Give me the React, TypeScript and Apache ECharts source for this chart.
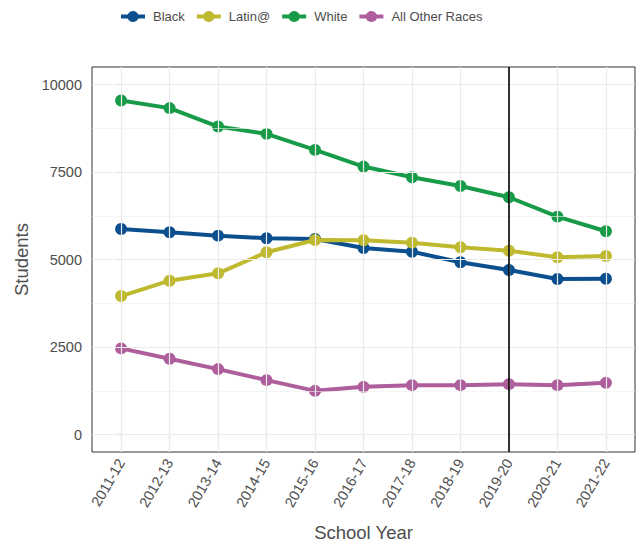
import React, { useEffect, useRef } from "react";
import * as echarts from "echarts";

const years = ["2011-12", "2012-13", "2013-14", "2014-15", "2015-16", "2016-17", "2017-18", "2018-19", "2019-20", "2020-21", "2021-22"];
const black = [5872, 5778, 5681, 5606, 5586, 5330, 5223, 4920, 4700, 4442, 4451];
const latin = [3956, 4394, 4605, 5206, 5558, 5549, 5481, 5349, 5252, 5063, 5100];
const white = [9542, 9325, 8799, 8590, 8132, 7655, 7351, 7102, 6779, 6224, 5807];
const other = [2460, 2163, 1868, 1553, 1247, 1362, 1410, 1410, 1439, 1410, 1476];
const yTicks = [0, 2500, 5000, 7500, 10000];
const yMinor = [1250, 3750, 6250, 8750];
const markerYear = "2019-20";

const seriesDefs = [
  { name: "Black", data: black, color: "#0b4f8f" },
  { name: "Latin@", data: latin, color: "#bfb930" },
  { name: "White", data: white, color: "#179b48" },
  { name: "All Other Races", data: other, color: "#ae5e9c" },
];

const FONT = "'Liberation Sans', Arial, Helvetica, sans-serif";

export default function App() {
  const ref = useRef<HTMLDivElement>(null);
  useEffect(() => {
    if (!ref.current) return;
    const chart = echarts.init(ref.current, undefined, { renderer: "svg" });
    const xIdx = years.map((_, i) => i);
    const gridSeries = {
      type: "line",
      name: "__grid",
      data: [],
      z: 0,
      silent: true,
      markLine: {
        silent: true,
        symbol: ["none", "none"],
        label: { show: false },
        emphasis: { disabled: true },
        animation: false,
        data: [
          ...yMinor.map((v) => ({ yAxis: v, lineStyle: { color: "#efefef", width: 0.6, type: "solid" } })),
          ...yTicks.map((v) => ({ yAxis: v, lineStyle: { color: "#ebebeb", width: 1.2, type: "solid" } })),
          ...xIdx.map((v) => ({ xAxis: v, lineStyle: { color: "#ebebeb", width: 1.2, type: "solid" } })),
        ],
      },
    };
    const vlineSeries = {
      type: "line",
      name: "__vline",
      data: [],
      z: 10,
      silent: true,
      markLine: {
        silent: true,
        symbol: ["none", "none"],
        label: { show: false },
        emphasis: { disabled: true },
        animation: false,
        data: [{ xAxis: years.indexOf(markerYear), lineStyle: { color: "#000000", width: 1.6, type: "solid" } }],
      },
    };
    chart.setOption({
      animation: false,
      textStyle: { fontFamily: FONT },
      legend: {
        data: seriesDefs.map((s) => s.name),
        top: 5,
        left: 114,
        itemWidth: 24,
        itemHeight: 14,
        itemGap: 10,
        lineStyle: { width: 4 },
        textStyle: { fontSize: 13, color: "#4d4d4d", fontFamily: FONT, padding: [0, 0, 0, 3] },
      },
      grid: {
        left: 92,
        top: 67,
        right: 8,
        bottom: 92,
        outerBoundsMode: "none",
        containLabel: false,
        show: true,
        borderColor: "#333333",
        borderWidth: 1,
        backgroundColor: "#ffffff",
      },
      xAxis: {
        type: "value",
        min: -0.6,
        max: 10.6,
        name: "School Year",
        nameLocation: "middle",
        nameGap: 71,
        nameTextStyle: { fontSize: 18.5, color: "#4d4d4d", fontFamily: FONT },
        axisLine: { show: false },
        splitLine: { show: false },
        axisTick: { show: true, length: 4.5, customValues: xIdx, lineStyle: { color: "#333333", width: 1.1 } },
        axisLabel: {
          customValues: xIdx,
          rotate: 60,
          margin: 8,
          fontSize: 14.5,
          color: "#4d4d4d",
          fontFamily: FONT,
          formatter: (v: number) => years[Math.round(v)] ?? "",
        },
      },
      yAxis: {
        type: "value",
        min: -500,
        max: 10500,
        name: "Students",
        nameLocation: "middle",
        nameGap: 60,
        nameRotate: 90,
        nameTextStyle: { fontSize: 18.5, color: "#4d4d4d", fontFamily: FONT },
        axisLine: { show: false },
        splitLine: { show: false },
        axisTick: { show: true, length: 4.5, customValues: yTicks, lineStyle: { color: "#333333", width: 1.1 } },
        axisLabel: {
          customValues: yTicks,
          margin: 10,
          fontSize: 14.5,
          color: "#4d4d4d",
          fontFamily: FONT,
          formatter: (v: number) => String(v),
        },
      },
      series: [
        gridSeries,
        vlineSeries,
        ...seriesDefs.map((s) => ({
          type: "line",
          name: s.name,
          data: s.data.map((v, i) => [i, v]),
          color: s.color,
          symbol: "circle",
          symbolSize: 12,
          showSymbol: true,
          z: 3,
          lineStyle: { width: 4, color: s.color },
          itemStyle: { color: s.color },
          emphasis: { disabled: true },
        })),
      ],
    });
    return () => chart.dispose();
  }, []);
  return <div ref={ref} style={{ position: "absolute", left: 0, top: 0, width: 643, height: 544 }} />;
}
